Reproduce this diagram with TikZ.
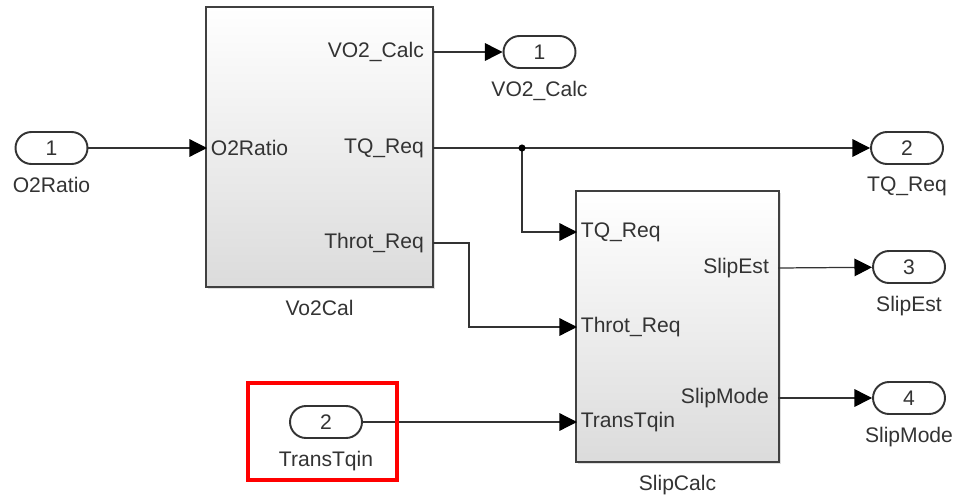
\documentclass[tikz,border=0pt]{standalone}
\usepackage{fontspec}
\setmainfont{Liberation Sans}
\usetikzlibrary{arrows.meta,positioning,shadows}
\tikzset{
    txt/.style={font=\fontsize{12}{14}\selectfont, text=black!80},
    port/.style={txt, draw=black!80, line width=1.1pt, fill=white, rounded corners=0.32cm,
        minimum width=1.44cm, minimum height=0.64cm, inner sep=0pt},
    block/.style={draw=black!75, line width=1.4pt, top color=white, bottom color=black!14,
        drop shadow={opacity=0.25, shadow xshift=1.2pt, shadow yshift=-1.2pt}},
    sig/.style={draw=black!80, line width=0.7pt, -{Triangle[length=10pt,width=10pt,color=black]}},
    plbl/.style={txt, inner sep=2pt}
}
\begin{document}
\begin{tikzpicture}[x=0.02cm, y=-0.02cm]
        \useasboundingbox (0,0) rectangle (956,497);
        % blocks
        \node[block, minimum width=4.54cm, minimum height=5.6cm] (vo2cal) at (319.5,147) {};
        \node[block, minimum width=4.06cm, minimum height=5.42cm] (slipcalc) at (677.5,326.5) {};
        \node[txt, below=0.12cm of vo2cal] (vo2name) {Vo2Cal};
        \node[txt, below=0.12cm of slipcalc] (slipname) {SlipCalc};
        % block ports
        \coordinate (vo2i1) at (207,148);
        \coordinate (vo2o1) at (433,52);\coordinate (vo2o2) at (433,148);\coordinate (vo2o3) at (433,243);
        \coordinate (slipi1) at (577,232);\coordinate (slipi2) at (577,327);\coordinate (slipi3) at (577,422);
        \coordinate (slipo1) at (778,268);\coordinate (slipo2) at (778,398);
        \node[plbl, anchor=west] at (vo2i1) {O2Ratio};
        \node[plbl, anchor=east, xshift=-3pt] at (vo2o1) {VO2\_Calc};
        \node[plbl, anchor=east, xshift=-3pt] at (vo2o2) {TQ\_Req};
        \node[plbl, anchor=east, xshift=-3pt] at (vo2o3) {Throt\_Req};
        \node[plbl, anchor=west] at (slipi1) {TQ\_Req};
        \node[plbl, anchor=west] at (slipi2) {Throt\_Req};
        \node[plbl, anchor=west] at (slipi3) {TransTqin};
        \node[plbl, anchor=east, xshift=-3pt] at (slipo1) {SlipEst};
        \node[plbl, anchor=east, xshift=-3pt] at (slipo2) {SlipMode};
        % in and out ports
        \node[port] (in1) at (51.5,148) {1};
        \node[port] (in2) at (326,422) {2};
        \node[port] (out1) at (539.5,52) {1};
        \node[port] (out2) at (907,148) {2};
        \node[port] (out3) at (909,267) {3};
        \node[port] (out4) at (909,398) {4};
        \node[txt, below=0.12cm of in1] (in1name) {O2Ratio};
        \node[txt, below=0.12cm of in2] (in2name) {TransTqin};
        \node[txt, below=0.12cm of out1] (out1name) {VO2\_Calc};
        \node[txt, below=0.12cm of out2] (out2name) {TQ\_Req};
        \node[txt, below=0.12cm of out3] (out3name) {SlipEst};
        \node[txt, below=0.12cm of out4] (out4name) {SlipMode};
        % signal lines
        \coordinate (tqdot) at (522,148);
        \coordinate (throtbend) at (469,243);
        \draw[sig] (in1) -- (vo2i1);
        \draw[sig] (vo2o1) -- (out1);
        \draw[draw=black!80, line width=0.7pt] (vo2o2) -- (tqdot);
        \draw[sig] (tqdot) -- (out2);
        \draw[sig] (tqdot) |- (slipi1);
        \draw[sig] (vo2o3) -- (throtbend) |- (slipi2);
        \draw[sig] (in2) -- (slipi3);
        \draw[sig] (slipo1) -- (out3);
        \draw[sig] (slipo2) -- (out4);
        \filldraw[black] (tqdot) circle (1.8pt);
        % highlight
        \draw[red, line width=2.3pt] (248,383) rectangle (397,480);
\end{tikzpicture}
\end{document}
